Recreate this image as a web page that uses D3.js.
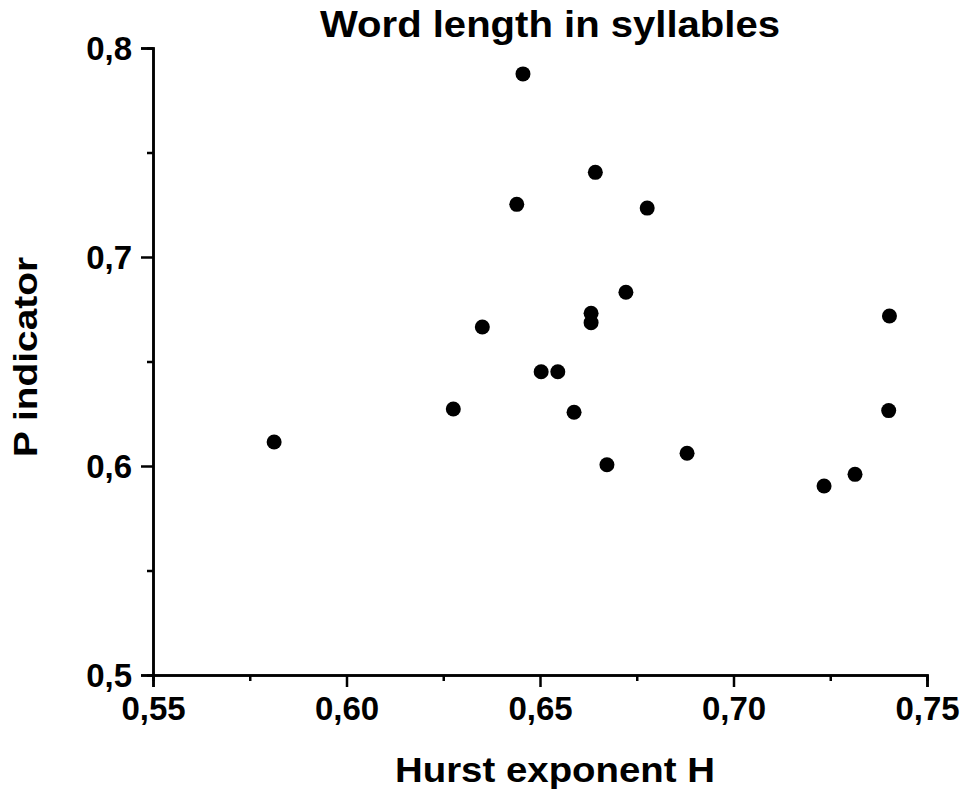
<!DOCTYPE html>
<html><head><meta charset="utf-8">
<script src="https://cdn.jsdelivr.net/npm/d3@7"></script>
<style>body{margin:0;background:#fff}svg{display:block}</style>
</head><body>
<script>
const hurst = [0.5813,0.6276,0.6351,0.6440,0.6456,0.6643,0.6777,0.6722,0.6632,0.6632,0.6503,0.6546,0.6588,0.6673,0.6880,0.7403,0.7401,0.7314,0.7234];
const pInd  = [0.6115,0.6273,0.6665,0.7252,0.7876,0.7405,0.7234,0.6831,0.6731,0.6686,0.6451,0.6451,0.6257,0.6006,0.6061,0.6718,0.6265,0.5960,0.5904];
const xTicks = [0.55,0.60,0.65,0.70,0.75];
const xMinor = [0.575,0.625,0.675,0.725];
const yTicks = [0.5,0.6,0.7,0.8];
const yMinor = [0.55,0.65,0.75];
const title = "Word length in syllables";
const xLabel = "Hurst exponent H";
const yLabel = "P indicator";

const W=963,H=793;
const svg=d3.select("body").append("svg").attr("width",W).attr("height",H);
const font="'Liberation Sans', Arial, sans-serif";
const x=d3.scaleLinear().domain([0.55,0.75]).range([153,927]);
const y=d3.scaleLinear().domain([0.5,0.8]).range([675,48]);
const fmt=(d,n)=>d.toFixed(n).replace(".",",");

const gx=svg.append("g").attr("transform","translate(0,675)");
gx.append("g").call(d3.axisBottom(x).tickValues(xMinor).tickSize(6).tickFormat(""));
gx.append("g").call(d3.axisBottom(x).tickValues(xTicks).tickSize(12).tickPadding(10).tickFormat(d=>fmt(d,2)));
const gy=svg.append("g").attr("transform","translate(153,0)");
gy.append("g").call(d3.axisLeft(y).tickValues(yMinor).tickSize(6).tickFormat(""));
gy.append("g").call(d3.axisLeft(y).tickValues(yTicks).tickSize(12).tickPadding(9).tickFormat(d=>fmt(d,1)));
svg.selectAll(".domain").attr("stroke","#000").attr("stroke-width",2.5);
svg.selectAll(".tick line").attr("stroke","#000").attr("stroke-width",2.5);
svg.selectAll(".tick text").attr("font-family",font).attr("font-weight","bold").attr("font-size",33).attr("fill","#000");
gx.selectAll(".tick text").attr("dy","0.71em");
gy.selectAll(".tick text").attr("dy","0.36em");

svg.append("g").selectAll("circle").data(hurst.map((h,i)=>[h,pInd[i]])).join("circle")
  .attr("cx",d=>x(d[0])).attr("cy",d=>y(d[1])).attr("r",7.5).attr("fill","#000");

svg.append("text").attr("x",550).attr("y",37).attr("text-anchor","middle")
  .attr("font-family",font).attr("font-weight","bold").attr("font-size",37)
  .attr("textLength",460).attr("lengthAdjust","spacingAndGlyphs").text(title);
svg.append("text").attr("x",555).attr("y",782).attr("text-anchor","middle")
  .attr("font-family",font).attr("font-weight","bold").attr("font-size",35)
  .attr("textLength",320).attr("lengthAdjust","spacingAndGlyphs").text(xLabel);
svg.append("text").attr("transform","translate(37,357) rotate(-90)").attr("text-anchor","middle")
  .attr("font-family",font).attr("font-weight","bold").attr("font-size",34)
  .attr("textLength",200).attr("lengthAdjust","spacingAndGlyphs").text(yLabel);
</script>
</body></html>
